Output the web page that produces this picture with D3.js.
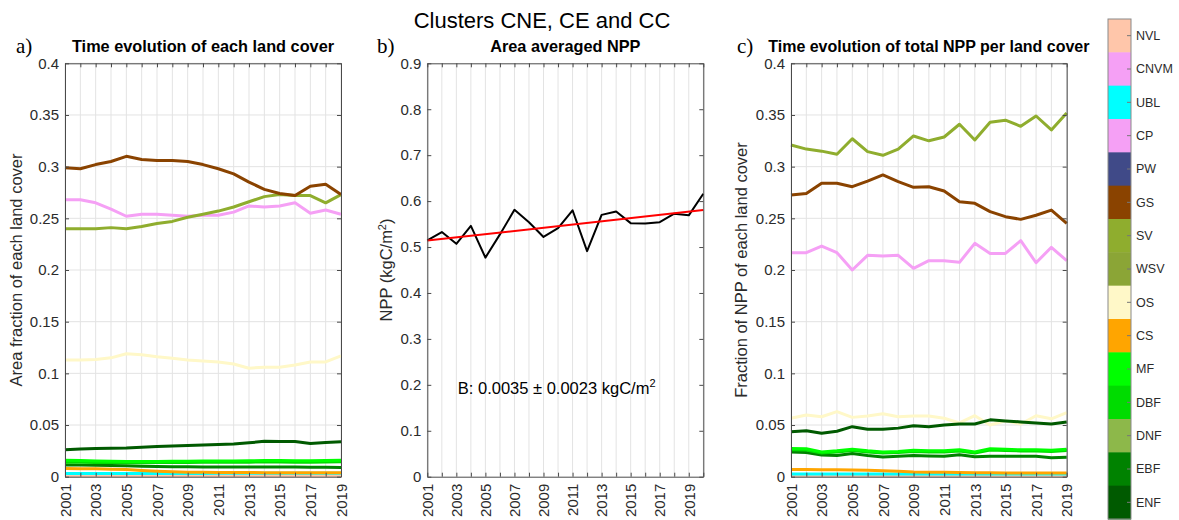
<!DOCTYPE html>
<html>
<head>
<meta charset="utf-8">
<script src="https://cdn.jsdelivr.net/npm/d3@7"></script>
<style>
  body { margin: 0; background: #fff; }
  svg { display: block; }
  text { font-family: "Liberation Sans", Arial, Helvetica, sans-serif; }
  text.letter { font-family: "Liberation Serif", "DejaVu Serif", serif; }
</style>
</head>
<body>
<svg id="fig" width="1179" height="520"></svg>
<script>
// ---- data -------------------------------------------------------------
const years = [2001, 2002, 2003, 2004, 2005, 2006, 2007, 2008, 2009, 2010,
               2011, 2012, 2013, 2014, 2015, 2016, 2017, 2018, 2019];
const yearsNpp = [2001, 2002, 2003, 2004, 2005, 2006, 2007, 2008, 2009, 2010,
                  2011, 2012, 2013, 2014, 2015, 2016, 2017, 2018, 2019, 2020];
const yearLabels = [2001, 2003, 2005, 2007, 2009, 2011, 2013, 2015, 2017, 2019];

const landCovers = ["NVL", "CNVM", "UBL", "CP", "PW", "GS", "SV", "WSV",
                    "OS", "CS", "MF", "DBF", "DNF", "EBF", "ENF"];
const coverColors = ["#ffc6aa", "#f5a0f5", "#00ffff", "#f5a0f5", "#404a88",
                     "#8a4300", "#8fad2e", "#8ba536", "#fff8c8", "#ffa500",
                     "#00ff00", "#00dc00", "#8db84a", "#008200", "#005a00"];

const yTicksFrac = [0, 0.05, 0.1, 0.15, 0.2, 0.25, 0.3, 0.35, 0.4];
const yTicksNpp = [0, 0.1, 0.2, 0.3, 0.4, 0.5, 0.6, 0.7, 0.8, 0.9];

// a) area fraction of each land cover
const areaNVL = [0.0008, 0.0008, 0.0008, 0.0008, 0.0008, 0.0008, 0.0008, 0.0008, 0.0008, 0.0008,
                 0.0008, 0.0008, 0.0008, 0.0008, 0.0008, 0.0008, 0.0008, 0.0008, 0.0008];
const areaUBL = [0.0031, 0.0031, 0.0031, 0.0032, 0.0032, 0.0032, 0.0032, 0.0032, 0.0032, 0.0032,
                 0.0033, 0.0033, 0.0033, 0.0033, 0.0033, 0.0033, 0.0033, 0.0033, 0.0033];
const areaCS  = [0.0080, 0.0078, 0.0076, 0.0073, 0.0070, 0.0060, 0.0052, 0.0047, 0.0044, 0.0042,
                 0.0041, 0.0040, 0.0040, 0.0039, 0.0039, 0.0039, 0.0038, 0.0038, 0.0038];
const areaEBF = [0.0113, 0.0112, 0.0110, 0.0108, 0.0106, 0.0102, 0.0099, 0.0097, 0.0096, 0.0095,
                 0.0095, 0.0095, 0.0094, 0.0094, 0.0093, 0.0093, 0.0092, 0.0091, 0.0090];
const areaDBF = [0.0140, 0.0140, 0.0138, 0.0137, 0.0136, 0.0136, 0.0137, 0.0137, 0.0138, 0.0139,
                 0.0139, 0.0140, 0.0141, 0.0142, 0.0142, 0.0141, 0.0141, 0.0143, 0.0145];
const areaMF  = [0.0158, 0.0157, 0.0152, 0.0150, 0.0148, 0.0147, 0.0148, 0.0149, 0.0150, 0.0151,
                 0.0152, 0.0153, 0.0154, 0.0156, 0.0156, 0.0155, 0.0154, 0.0157, 0.0160];
const areaENF = [0.0260, 0.0268, 0.0272, 0.0276, 0.0278, 0.0285, 0.0292, 0.0298, 0.0302, 0.0307,
                 0.0312, 0.0316, 0.0328, 0.0342, 0.0341, 0.0340, 0.0322, 0.0332, 0.0338];
const areaOS  = [0.113, 0.113, 0.1135, 0.115, 0.119, 0.118, 0.116, 0.1145, 0.113, 0.112,
                 0.111, 0.109, 0.105, 0.106, 0.106, 0.108, 0.111, 0.111, 0.117];
const areaCP  = [0.268, 0.268, 0.265, 0.259, 0.252, 0.254, 0.254, 0.253, 0.252, 0.253,
                 0.253, 0.256, 0.262, 0.261, 0.262, 0.265, 0.255, 0.258, 0.254];
const areaSV  = [0.240, 0.240, 0.240, 0.241, 0.240, 0.242, 0.245, 0.247, 0.251, 0.254,
                 0.257, 0.261, 0.266, 0.271, 0.273, 0.272, 0.272, 0.265, 0.273];
const areaGS  = [0.299, 0.298, 0.302, 0.305, 0.310, 0.307, 0.306, 0.306, 0.305, 0.302,
                 0.298, 0.293, 0.285, 0.278, 0.274, 0.272, 0.281, 0.283, 0.273];

// b) area averaged NPP (kgC/m2) and its linear trend
const nppMean = [0.5145, 0.5326, 0.507, 0.546, 0.477, 0.5275, 0.581, 0.554, 0.522, 0.541,
                 0.580, 0.491, 0.570, 0.5775, 0.552, 0.551, 0.554, 0.5725, 0.569, 0.616];
const trendStart = 0.514;   // fitted value in 2001
const trendSlope = 0.0035;  // kgC/m2 per year
const trendError = 0.0023;

// c) fraction of total NPP per land cover
const nppNVL = [0.0008, 0.0008, 0.0008, 0.0008, 0.0008, 0.0008, 0.0008, 0.0008, 0.0008, 0.0008,
                0.0008, 0.0008, 0.0008, 0.0008, 0.0008, 0.0008, 0.0008, 0.0008, 0.0008];
const nppUBL = [0.0026, 0.0026, 0.0026, 0.0026, 0.0026, 0.0026, 0.0026, 0.0026, 0.0026, 0.0026,
                0.0026, 0.0026, 0.0026, 0.0026, 0.0026, 0.0026, 0.0026, 0.0026, 0.0026];
const nppCS  = [0.0070, 0.0069, 0.0068, 0.0067, 0.0065, 0.0062, 0.0058, 0.0052, 0.0046, 0.0044,
                0.0042, 0.0041, 0.0039, 0.0038, 0.0037, 0.0036, 0.0036, 0.0035, 0.0035];
const nppEBF = [0.0240, 0.0235, 0.0210, 0.0205, 0.0225, 0.0205, 0.0190, 0.0197, 0.0205, 0.0200,
                0.0197, 0.0213, 0.0194, 0.0197, 0.0197, 0.0197, 0.0197, 0.0184, 0.0187];
const nppDBF = [0.0260, 0.0258, 0.0229, 0.0238, 0.0253, 0.0239, 0.0229, 0.0234, 0.0244, 0.0239,
                0.0239, 0.0249, 0.0229, 0.0258, 0.0254, 0.0249, 0.0249, 0.0244, 0.0254];
const nppMF  = [0.0274, 0.0270, 0.0240, 0.0250, 0.0265, 0.0250, 0.0240, 0.0245, 0.0255, 0.0250,
                0.0250, 0.0260, 0.0240, 0.0270, 0.0265, 0.0260, 0.0260, 0.0255, 0.0265];
const nppENF = [0.0435, 0.0445, 0.0420, 0.0440, 0.0484, 0.0460, 0.0460, 0.0470, 0.0494, 0.0484,
                0.0500, 0.0510, 0.0510, 0.0550, 0.0540, 0.0530, 0.0520, 0.0510, 0.0530];
const nppOS  = [0.0565, 0.0597, 0.0580, 0.0630, 0.0574, 0.0587, 0.0610, 0.0580, 0.0587, 0.0587,
                0.0565, 0.0520, 0.0590, 0.0500, 0.0540, 0.0510, 0.0590, 0.0560, 0.0620];
const nppCP  = [0.2168, 0.2168, 0.2232, 0.2168, 0.2000, 0.2142, 0.2135, 0.2142, 0.2016, 0.2090,
                0.2090, 0.2074, 0.2258, 0.2160, 0.2160, 0.2284, 0.2070, 0.2220, 0.2090];
const nppGS  = [0.2726, 0.2740, 0.2840, 0.2840, 0.2806, 0.2860, 0.2920, 0.2855, 0.2800, 0.2806,
                0.2765, 0.2660, 0.2645, 0.2565, 0.2516, 0.2490, 0.2530, 0.2580, 0.2450];
const nppSV  = [0.321, 0.317, 0.315, 0.312, 0.327, 0.3145, 0.311, 0.317, 0.3297, 0.325,
                0.3287, 0.341, 0.3258, 0.343, 0.345, 0.339, 0.349, 0.3355, 0.352];

// ---- drawing ----------------------------------------------------------
const svg = d3.select("#fig");
svg.append("rect").attr("width", 1179).attr("height", 520).attr("fill", "#fff");

const colorOf = d3.scaleOrdinal().domain(landCovers).range(coverColors);
const AXIS = "#4a4a4a", TICKTXT = "#2b2b2b", GRID = "#e3e3e3";

function makePanel(cfg) {
  const x = d3.scaleLinear().domain(cfg.xDomain).range([cfg.left, cfg.right]);
  const y = d3.scaleLinear().domain(cfg.yDomain).range([cfg.bottom, cfg.top]);
  const g = svg.append("g");

  // grid
  g.append("g").selectAll("line").data(cfg.xTicks).join("line")
    .attr("x1", d => x(d)).attr("x2", d => x(d))
    .attr("y1", cfg.top).attr("y2", cfg.bottom)
    .attr("stroke", GRID).attr("stroke-width", 1);
  if (cfg.hGrid) {
    g.append("g").selectAll("line").data(cfg.yTicks).join("line")
      .attr("x1", cfg.left).attr("x2", cfg.right)
      .attr("y1", d => y(d)).attr("y2", d => y(d))
      .attr("stroke", GRID).attr("stroke-width", 1);
  }

  const plot = g.append("g");

  // axes with inward ticks on all four sides
  const tick = 4;
  const bottom = g.append("g").attr("transform", `translate(0,${cfg.bottom})`)
    .call(d3.axisBottom(x).tickValues(cfg.xTicks).tickSizeInner(-tick).tickSizeOuter(0)
      .tickFormat(d => cfg.xLabels.includes(d) ? String(d) : ""));
  bottom.selectAll(".tick text")
    .attr("transform", "rotate(-90)")
    .attr("x", -7).attr("y", 0).attr("dy", "0.35em")
    .attr("text-anchor", "end");
  g.append("g").attr("transform", `translate(0,${cfg.top})`)
    .call(d3.axisTop(x).tickValues(cfg.xTicks).tickSizeInner(-tick).tickSizeOuter(0).tickFormat(""));
  g.append("g").attr("transform", `translate(${cfg.left},0)`)
    .call(d3.axisLeft(y).tickValues(cfg.yTicks).tickSizeInner(-tick).tickSizeOuter(0)
      .tickPadding(6).tickFormat(d3.format("~g")));
  g.append("g").attr("transform", `translate(${cfg.right},0)`)
    .call(d3.axisRight(y).tickValues(cfg.yTicks).tickSizeInner(-tick).tickSizeOuter(0).tickFormat(""));

  g.selectAll(".domain").attr("stroke", AXIS);
  g.selectAll(".tick line").attr("stroke", AXIS);
  g.selectAll(".tick text").attr("fill", TICKTXT).attr("font-size", 15);

  // panel title
  g.append("text").attr("x", (cfg.left + cfg.right) / 2).attr("y", 51.5)
    .attr("text-anchor", "middle").attr("font-weight", "bold").attr("font-size", cfg.titleSize || 16.3)
    .attr("fill", "#000").text(cfg.title);
  // panel letter
  g.append("text").attr("class", "letter").attr("x", cfg.letterX).attr("y", 53)
    .attr("font-size", 21).attr("fill", "#000").text(cfg.letter);
  // y axis label
  const yl = g.append("text")
    .attr("transform", `translate(${cfg.yLabelX},${(cfg.top + cfg.bottom) / 2}) rotate(-90)`)
    .attr("text-anchor", "middle").attr("font-size", 16.5).attr("fill", TICKTXT);
  cfg.yLabel(yl);

  return { x, y, plot };
}

// a) land cover fractions
const pa = makePanel({
  left: 65, right: 341, top: 63.3, bottom: 476.7,
  xDomain: [2001, 2019], yDomain: [0, 0.4],
  xTicks: years, xLabels: yearLabels, yTicks: yTicksFrac, hGrid: true,
  title: "Time evolution of each land cover", letter: "a)", letterX: 16, yLabelX: 22,
  yLabel: t => t.text("Area fraction of each land cover")
});
const seriesA = [
  ["NVL", areaNVL], ["UBL", areaUBL], ["CS", areaCS], ["EBF", areaEBF], ["DBF", areaDBF],
  ["MF", areaMF], ["ENF", areaENF], ["OS", areaOS], ["CP", areaCP], ["SV", areaSV], ["GS", areaGS]
];
const lineA = d3.line().x((d, i) => pa.x(years[i])).y(d => pa.y(d));
pa.plot.selectAll("path").data(seriesA).join("path")
  .attr("d", d => lineA(d[1])).attr("fill", "none")
  .attr("stroke", d => colorOf(d[0])).attr("stroke-width", 3)
  .attr("stroke-linejoin", "round");

// b) area averaged NPP
const pb = makePanel({
  left: 427.3, right: 703.3, top: 63.3, bottom: 476.7,
  xDomain: [2001, 2020], yDomain: [0, 0.9],
  xTicks: yearsNpp, xLabels: yearLabels, yTicks: yTicksNpp, hGrid: false,
  title: "Area averaged NPP", letter: "b)", letterX: 377, yLabelX: 392,
  yLabel: t => {
    t.append("tspan").text("NPP (kgC/m");
    t.append("tspan").attr("dy", -6).attr("font-size", 11).text("2");
    t.append("tspan").attr("dy", 6).text(")");
  }
});
pb.plot.append("path")
  .attr("d", d3.line().x((d, i) => pb.x(yearsNpp[i])).y(d => pb.y(d))(nppMean))
  .attr("fill", "none").attr("stroke", "#000").attr("stroke-width", 2)
  .attr("stroke-linejoin", "round");
const trendEnds = [yearsNpp[0], yearsNpp[yearsNpp.length - 1]];
pb.plot.append("line")
  .attr("x1", pb.x(trendEnds[0])).attr("y1", pb.y(trendStart))
  .attr("x2", pb.x(trendEnds[1])).attr("y2", pb.y(trendStart + trendSlope * (trendEnds[1] - trendEnds[0])))
  .attr("stroke", "#ff0000").attr("stroke-width", 2);
const bt = pb.plot.append("text").attr("x", pb.x(2003.1)).attr("y", pb.y(0.181))
  .attr("font-size", 16.5).attr("fill", "#000");
bt.append("tspan").text(`B: ${trendSlope.toFixed(4)} \u00b1 ${trendError.toFixed(4)} kgC/m`);
bt.append("tspan").attr("dy", -7).attr("font-size", 11).text("2");

// c) fraction of NPP per land cover
const pc = makePanel({
  left: 791, right: 1066.7, top: 63.3, bottom: 476.7,
  xDomain: [2001, 2019], yDomain: [0, 0.4],
  xTicks: years, xLabels: yearLabels, yTicks: yTicksFrac, hGrid: true, titleSize: 16,
  title: "Time evolution of total NPP per land cover", letter: "c)", letterX: 737, yLabelX: 747,
  yLabel: t => t.text("Fraction of NPP of each land cover")
});
const seriesC = [
  ["NVL", nppNVL], ["UBL", nppUBL], ["CS", nppCS], ["EBF", nppEBF], ["DBF", nppDBF],
  ["MF", nppMF], ["OS", nppOS], ["ENF", nppENF], ["CP", nppCP], ["GS", nppGS], ["SV", nppSV]
];
const lineC = d3.line().x((d, i) => pc.x(years[i])).y(d => pc.y(d));
pc.plot.selectAll("path").data(seriesC).join("path")
  .attr("d", d => lineC(d[1])).attr("fill", "none")
  .attr("stroke", d => colorOf(d[0])).attr("stroke-width", 3)
  .attr("stroke-linejoin", "round");

// main title
svg.append("text").attr("x", 542).attr("y", 28).attr("text-anchor", "middle")
  .attr("font-size", 22).attr("fill", "#000").text("Clusters CNE, CE and CC");

// colour bar with the land cover classes
const cb = d3.scaleBand().domain(landCovers).range([19, 519]);
const cbLeft = 1108, cbRight = 1131;
const cbg = svg.append("g");
cbg.selectAll("rect").data(landCovers).join("rect")
  .attr("x", cbLeft).attr("y", d => cb(d))
  .attr("width", cbRight - cbLeft).attr("height", cb.bandwidth() + 0.5)
  .attr("fill", d => colorOf(d));
cbg.append("rect").attr("x", cbLeft).attr("y", 19)
  .attr("width", cbRight - cbLeft).attr("height", 500)
  .attr("fill", "none").attr("stroke", "#8a8a8a").attr("stroke-width", 1);
cbg.selectAll("line.cbt").data(landCovers).join("line").attr("class", "cbt")
  .attr("x1", cbRight - 4).attr("x2", cbRight)
  .attr("y1", d => cb(d) + cb.bandwidth() / 2).attr("y2", d => cb(d) + cb.bandwidth() / 2)
  .attr("stroke", "#777");
cbg.selectAll("text").data(landCovers).join("text")
  .attr("x", cbRight + 5).attr("y", d => cb(d) + cb.bandwidth() / 2)
  .attr("dy", "0.35em").attr("font-size", 12.5).attr("fill", TICKTXT)
  .text(d => d);
</script>
</body>
</html>
